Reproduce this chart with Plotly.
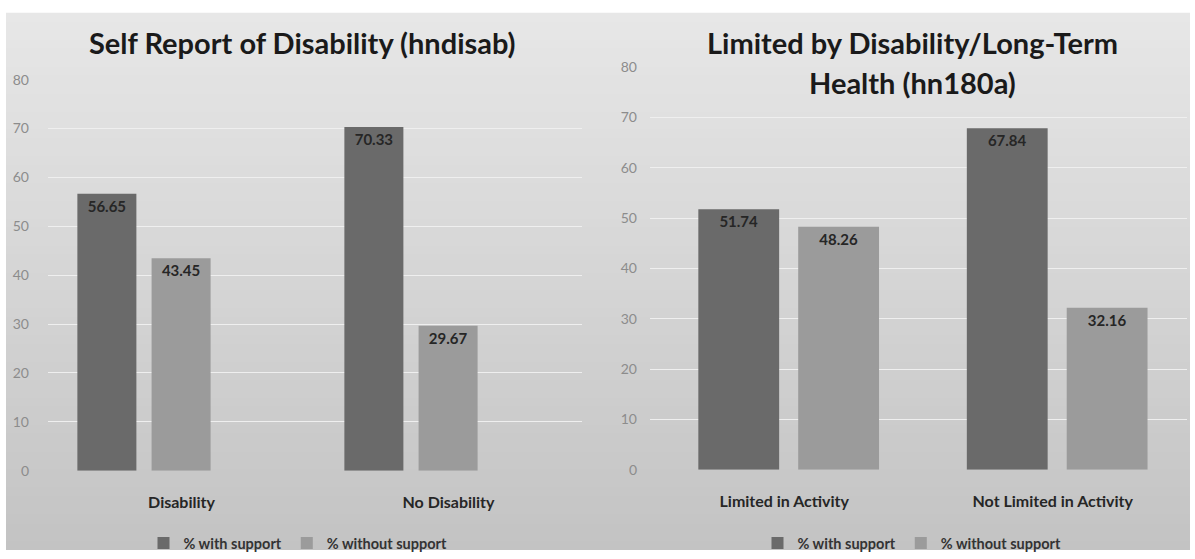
import plotly.graph_objects as go

# ---- data ----
left_categories = ["Disability", "No Disability"]
left_with_support = [56.65, 70.33]
left_without_support = [43.45, 29.67]

right_categories = ["Limited in Activity", "Not Limited in Activity"]
right_with_support = [51.74, 67.84]
right_without_support = [48.26, 32.16]

series_names = ["% with support", "% without support"]
y_ticks = [0, 10, 20, 30, 40, 50, 60, 70, 80]

left_title = "Self Report of Disability (hndisab)"
right_title_lines = ["Limited by Disability/Long-Term", "Health (hn180a)"]

# ---- style ----
W, H = 1195, 559
FONT = "Lato"
DARK = "#6a6a6a"
LIGHT = "#9b9b9b"
TXT = "#262626"

fig = go.Figure()

# background gradient strips (overlapping to avoid seams)
n = 60
top_c, bot_c = 0xE7, 0xC3
x0p, x1p = 6 / W, 1190 / W
y_top_px = 4
for i in range(n):
    ya = y_top_px + (H - y_top_px) * i / n
    yb = y_top_px + (H - y_top_px) * (i + 1) / n + 2
    yb = min(yb, H)
    t = (i + 0.5) / n
    v = int(round(top_c + (bot_c - top_c) * t))
    col = f"rgb({v},{v},{v})"
    fig.add_shape(type="rect", xref="paper", yref="paper", x0=x0p, x1=x1p,
                  y0=1 - yb / H, y1=1 - ya / H, fillcolor=col, line_width=0,
                  layer="below")

def bar(cats, vals, name, color, xa, ya, width, offset, legend, show):
    return go.Bar(x=cats, y=vals, name=name, marker=dict(color=color, line=dict(width=0)),
                  xaxis=xa, yaxis=ya, width=width, offset=offset,
                  texttemplate="%{y:.2f}", textposition="inside", insidetextanchor="end",
                  textangle=0, constraintext="none",
                  insidetextfont=dict(family=FONT, size=15, color=TXT, weight="bold"),
                  legend=legend, showlegend=show)

# left panel (Excel cluster with an empty third slot)
fig.add_trace(bar(left_categories, left_with_support, series_names[0], DARK, "x", "y",
                  0.221, -0.39, "legend", True))
fig.add_trace(bar(left_categories, left_without_support, series_names[1], LIGHT, "x", "y",
                  0.221, -0.112, "legend", True))
# right panel
fig.add_trace(bar(right_categories, right_with_support, series_names[0], DARK, "x2", "y2",
                  0.301, -0.32, "legend2", True))
fig.add_trace(bar(right_categories, right_without_support, series_names[1], LIGHT, "x2", "y2",
                  0.301, 0.052, "legend2", True))

xcommon = dict(type="category", showgrid=False, showline=False, zeroline=False, ticks="",
               tickfont=dict(family=FONT, size=16, color=TXT, weight="bold"),
               ticklabelstandoff=20, fixedrange=True)
ycommon = dict(range=[0, 80], tickvals=y_ticks, showgrid=True, gridcolor="#efefef", gridwidth=1,
               zeroline=False, showline=False, ticks="",
               tickfont=dict(family=FONT, size=14, color="#8c8c8c"), fixedrange=True)

fig.update_layout(
    width=W, height=H, autosize=False,
    margin=dict(l=0, r=0, t=0, b=0),
    paper_bgcolor="white", plot_bgcolor="rgba(0,0,0,0)",
    barmode="overlay",
    xaxis=dict(domain=[48 / W, 582 / W], anchor="y", **xcommon),
    yaxis=dict(domain=[1 - 477 / H, 1 - 73 / H], anchor="x", ticklabelstandoff=18, **ycommon),
    xaxis2=dict(domain=[650 / W, 1187 / W], anchor="y2", **xcommon),
    yaxis2=dict(domain=[1 - 476 / H, 1 - 60 / H], anchor="x2", ticklabelstandoff=12, **ycommon),
    legend=dict(orientation="h", x=298 / W, xanchor="center", y=1 - 552 / H, yanchor="middle",
                font=dict(family=FONT, size=14.5, color="#333333", weight="bold"),
                bgcolor="rgba(0,0,0,0)", itemclick=False, itemdoubleclick=False,
                itemwidth=30, tracegroupgap=0),
    legend2=dict(orientation="h", x=912 / W, xanchor="center", y=1 - 552 / H, yanchor="middle",
                 font=dict(family=FONT, size=14.5, color="#333333", weight="bold"),
                 bgcolor="rgba(0,0,0,0)", itemclick=False, itemdoubleclick=False,
                 itemwidth=30, tracegroupgap=0),
    showlegend=True,
)

title_font = dict(family=FONT, size=29, color="#1a1a1a", weight="bold")
fig.add_annotation(text=left_title, xref="paper", yref="paper", x=302 / W, y=1 - 35 / H,
                   xanchor="center", yanchor="middle", showarrow=False, font=title_font)
for i, line in enumerate(right_title_lines):
    fig.add_annotation(text=line, xref="paper", yref="paper", x=912 / W, y=1 - (35 + 41 * i) / H,
                       xanchor="center", yanchor="middle", showarrow=False, font=title_font)

fig.write_html("out.html")
